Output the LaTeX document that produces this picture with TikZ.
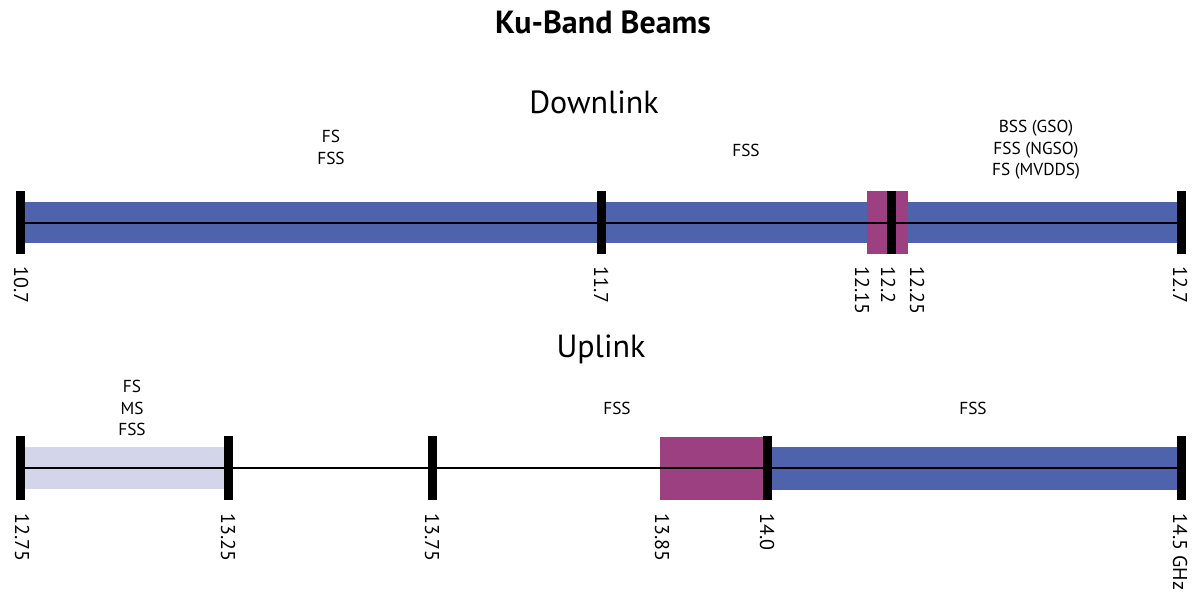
\documentclass[tikz,border=0pt]{standalone}
\usepackage{fontspec}
\setmainfont{PT Sans}
\definecolor{kublue}{RGB}{79,99,173}
\definecolor{kumag}{RGB}{156,64,130}
\definecolor{kulight}{RGB}{211,214,234}

\begin{document}
\begin{tikzpicture}[x=0.75pt,y=-0.75pt,
  fqtick/.style={line width=6.75pt},
  axis/.style={line width=1.5pt},
  freq/.style={rotate=-90,anchor=west,inner sep=0pt,font=\fontsize{15}{15}\selectfont},
  band/.style={align=center,inner sep=0pt,font=\fontsize{13}{16}\selectfont},
  head/.style={inner sep=0pt,font=\fontsize{24}{24}\selectfont}]
\useasboundingbox (0,0) rectangle (1201,601);
\node[inner sep=0pt,font=\bfseries\fontsize{24}{24}\selectfont] (title) at (603,22) {Ku-Band Beams};
\node[head] (down) at (594,102) {Downlink};
\node[head] (up) at (601,349) {Uplink};
% downlink
\fill[kublue] (20,202) rectangle (1181,243);
\fill[kumag] (867,191) rectangle (908,254);
\draw[axis] (20,222.5) coordinate (dstart) -- (1181,222.5) coordinate (dend);
\foreach \x/\n in {20.5/a,601/b,891/c,1181.5/d}
  \draw[fqtick] (\x,191) coordinate (dt\n) -- (\x,254);
\foreach \x/\f/\n in {21/10.7/a,601/11.7/b,862/12.15/c,888/12.2/d,917/12.25/e,1180/12.7/f}
  \node[freq] (dl\n) at (\x,266) {\f};
\node[band] (dfs) at (331,147.5) {FS\\FSS};
\node[band] (dfss) at (746,150) {FSS};
\node[band] (dbss) at (1036,150) {BSS (GSO)\\FSS (NGSO)\\FS (MVDDS)};
% uplink
\fill[kulight] (20,447) rectangle (228,489);
\fill[kumag] (660,437) rectangle (767,500);
\fill[kublue] (767,447) rectangle (1181,490);
\draw[axis] (20,468) coordinate (ustart) -- (1181,468) coordinate (uend);
\foreach \x/\n in {20.5/a,228/b,432/c,767/d,1181.5/e}
  \draw[fqtick] (\x,436) coordinate (ut\n) -- (\x,500);
\foreach \x/\f/\n in {22/12.75/a,228/13.25/b,432/13.75/c,662/13.85/d,767/14.0/e,1180/14.5 GHz/f}
  \node[freq] (ul\n) at (\x,513) {\f};
\node[band] (ufs) at (132,408) {FS\\MS\\FSS};
\node[band] (ufss) at (617,408) {FSS};
\node[band] (ufssb) at (973,408) {FSS};
\end{tikzpicture}
\end{document}
